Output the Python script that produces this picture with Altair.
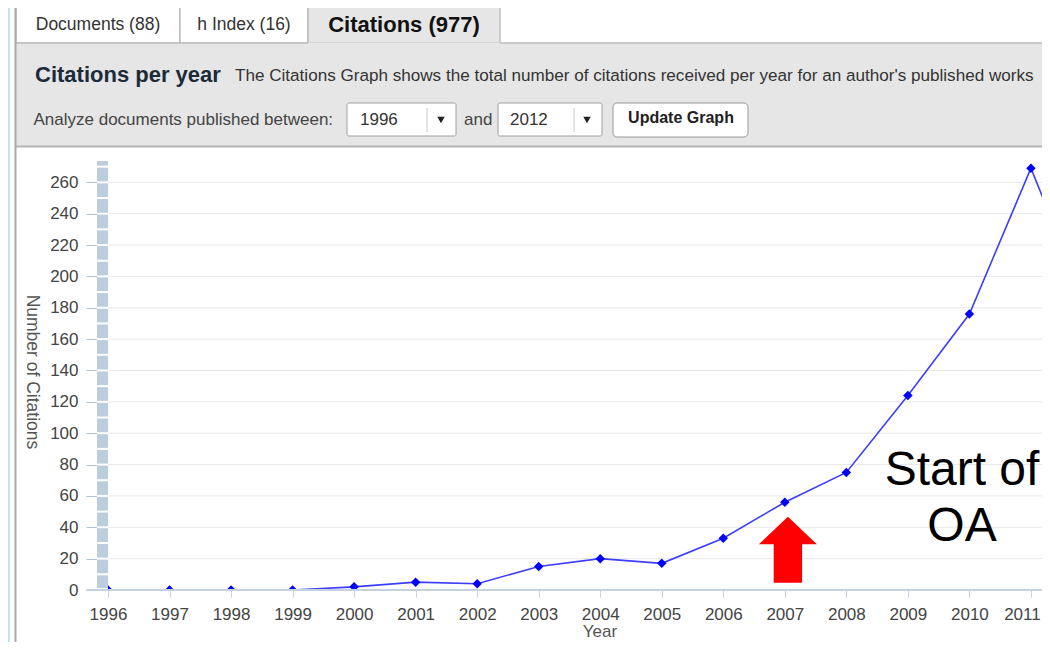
import altair as alt
import pandas as pd

# ---------------- data ----------------
years = [1996, 1997, 1998, 1999, 2000, 2001, 2002, 2003, 2004, 2005,
         2006, 2007, 2008, 2009, 2010, 2011, 2012]
citations = [0, 0, 0, 0, 2, 5, 4, 15, 20, 17, 33, 56, 75, 124, 176, 269, 172]
x_tick_years = [1996, 1997, 1998, 1999, 2000, 2001, 2002, 2003, 2004, 2005,
                2006, 2007, 2008, 2009, 2010, 2011]
y_tick_values = [0, 20, 40, 60, 80, 100, 120, 140, 160, 180, 200, 220, 240, 260]
grid_values = [20, 40, 60, 80, 100, 120, 140, 160, 180, 200, 220, 240, 260]
bar_separators = [10, 20, 30, 40, 50, 60, 70, 80, 90, 100, 110, 120, 130, 140,
                  150, 160, 170, 180, 190, 200, 210, 220, 230, 240, 250, 260, 270]
note_lines = ["Start of", "OA"]
note_year = [2009.88, 2009.88]
note_value = [67, 31]
arrow_year = [2007.05]
arrow_value = [25.7]

tab_labels = ["Documents (88)", "h Index (16)", "Citations (977)"]
panel_title = "Citations per year"
panel_desc = ("The Citations Graph shows the total number of citations received "
              "per year for an author's published works")
range_label = "Analyze documents published between:"
range_from = "1996"
range_to = "2012"
button_label = "Update Graph"
y_title = "Number of Citations"
x_title = "Year"

FONT = "Liberation Sans"
W, H = 934, 429

df = pd.DataFrame({"year": years, "citations": citations})
grid_df = pd.DataFrame({"v": grid_values})
sep_df = pd.DataFrame({"v": bar_separators})
note_df = pd.DataFrame({"label": note_lines, "year": note_year, "value": note_value})
arrow_df = pd.DataFrame({"year": arrow_year, "value": arrow_value})

xscale = alt.Scale(domain=[1996, 2011.18], nice=False, zero=False)
yscale = alt.Scale(domain=[0, 273.6], nice=False, zero=True)

xaxis = alt.Axis(values=x_tick_years, format="d", title=None, grid=False, domain=False,
                 tickColor="#c3d1e0", tickSize=7, labelFont=FONT, labelFontSize=17,
                 labelColor="#444", labelPadding=9, labelFlush=False, labelOverlap=False,
                 labelOffset={"expr": "datum.value >= 2011 ? -9 : 0"})
yaxis = alt.Axis(values=y_tick_values, title=None, grid=False, domain=False, offset=11,
                 tickSize=11, tickColor="#b3c3d3", labelFont=FONT, labelFontSize=17,
                 labelColor="#444", labelPadding=8)

dummy = alt.Data(values=[{"d": 0}])


def rect(x1, y1, x2, y2, **kw):
    return alt.Chart(dummy).mark_rect(**kw).encode(
        x=alt.value(x1), x2=alt.value(x2), y=alt.value(y1), y2=alt.value(y2))


def hrule(x1, x2, y, color, width=1):
    return alt.Chart(dummy).mark_rule(color=color, strokeWidth=width).encode(
        x=alt.value(x1), x2=alt.value(x2), y=alt.value(y))


def vrule(x, y1, y2, color, width=1):
    return alt.Chart(dummy).mark_rule(color=color, strokeWidth=width).encode(
        x=alt.value(x), y=alt.value(y1), y2=alt.value(y2))


def label(txt, x, y, size=17, color="#333", weight="normal", align="left", angle=0,
          baseline="alphabetic"):
    return alt.Chart(dummy).mark_text(
        text=txt, font=FONT, fontSize=size, color=color, fontWeight=weight,
        align=align, baseline=baseline, angle=angle).encode(
        x=alt.value(x), y=alt.value(y))


def tri(x, y):
    return alt.Chart(dummy).mark_point(
        shape="triangle-down", filled=True, size=55, color="#222", opacity=1).encode(
        x=alt.value(x), y=alt.value(y))


BORDER = "#a8a8a8"
PANEL = "#e6e6e6"

deco = [
    rect(-100, -160, -98, 490, fill="#c0e2f2"),
    rect(-92, -156, 72, -118, fill="white", stroke=BORDER, strokeWidth=1),
    rect(72, -156, 200, -118, fill="white", stroke=BORDER, strokeWidth=1),
    rect(200, -156, 392, -118, fill=PANEL, stroke=BORDER, strokeWidth=1),
    rect(-92, -118.4, 950, -15, fill=PANEL),
    hrule(-92, 200, -118, BORDER),
    hrule(392, 950, -118, BORDER),
    hrule(-92, 950, -14.5, "#b4b4b4", 2),
    vrule(-92.5, -160, 490, BORDER, 2),
    # tabs
    label(tab_labels[0], -10, -131.5, size=17.5, color="#333", align="center"),
    label(tab_labels[1], 136, -131.5, size=17.5, color="#333", align="center"),
    label(tab_labels[2], 296, -128.7, size=22, color="#111", weight="bold", align="center"),
    # header
    label(panel_title, -73, -79.3, size=22, color="#1c2b3a", weight="bold"),
    label(panel_desc, 127, -80, size=17.1, color="#333"),
    label(range_label, -74.5, -36, size=17, color="#444"),
    # dropdown 1
    rect(239, -58, 348, -25, fill="white", stroke="#a0a0a0", strokeWidth=1, cornerRadius=2),
    vrule(319, -53, -29, "#c8c8c8"),
    tri(333, -41),
    label(range_from, 252, -36, size=17, color="#333"),
    label("and", 356, -36, size=17, color="#444"),
    # dropdown 2
    rect(390, -58, 494, -25, fill="white", stroke="#a0a0a0", strokeWidth=1, cornerRadius=2),
    vrule(466, -53, -29, "#c8c8c8"),
    tri(479, -41),
    label(range_to, 402, -36, size=17, color="#333"),
    # button
    rect(505, -58, 640, -24, fill="white", stroke="#999999", strokeWidth=1, cornerRadius=4),
    label(button_label, 573, -37.7, size=16, color="#222", weight="bold", align="center"),
    # plot side bar
    rect(-11, 0, 0, 427, fill="#bccddd"),
    # axis titles
    label(y_title, -76, 211, size=17.5, color="#555", align="center", angle=90,
          baseline="middle"),
    label(x_title, 492, 476, size=17, color="#555", align="center"),
]

seps = alt.Chart(sep_df).mark_rule(color="white", strokeWidth=2).encode(
    y=alt.Y("v:Q", scale=yscale, axis=yaxis),
    x=alt.value(-11), x2=alt.value(0))

grid = alt.Chart(grid_df).mark_rule(color="#e8e8e8", strokeWidth=1).encode(
    y=alt.Y("v:Q", scale=yscale, axis=yaxis),
    x=alt.value(0), x2=alt.value(W))

base = alt.Chart(df)
line = base.mark_line(color="#3d3dff", strokeWidth=1.6, clip=True).encode(
    x=alt.X("year:Q", scale=xscale, axis=xaxis),
    y=alt.Y("citations:Q", scale=yscale, axis=yaxis))
pts = base.mark_point(shape="diamond", filled=True, size=90, color="#0000ff",
                      opacity=1, clip=True).encode(
    x=alt.X("year:Q", scale=xscale, axis=xaxis),
    y=alt.Y("citations:Q", scale=yscale, axis=yaxis))

xdomain = hrule(-22, W, H, "#c3d1e0", 2)

note = alt.Chart(note_df).mark_text(font=FONT, fontSize=48, color="black",
                                    align="center", baseline="alphabetic").encode(
    x=alt.X("year:Q", scale=xscale, axis=xaxis),
    y=alt.Y("value:Q", scale=yscale, axis=yaxis),
    text="label:N")

arrow = alt.Chart(arrow_df).mark_point(
    shape="M0,-1L0.879,-0.164L0.43,-0.164L0.43,1L-0.43,1L-0.43,-0.164L-0.879,-0.164Z",
    filled=True, size=4356, color="#ff0000", opacity=1, strokeWidth=0).encode(
    x=alt.X("year:Q", scale=xscale, axis=xaxis),
    y=alt.Y("value:Q", scale=yscale, axis=yaxis))

chart = alt.layer(*deco, seps, grid, line, pts, xdomain, note, arrow).properties(
    width=W, height=H,
    padding={"left": 100, "top": 153, "right": 0, "bottom": 52},
    autosize=alt.AutoSizeParams(type="none"),
    background="white",
).configure_view(stroke=None)

chart.save("out.html", embed_options={"renderer": "svg", "actions": False})
